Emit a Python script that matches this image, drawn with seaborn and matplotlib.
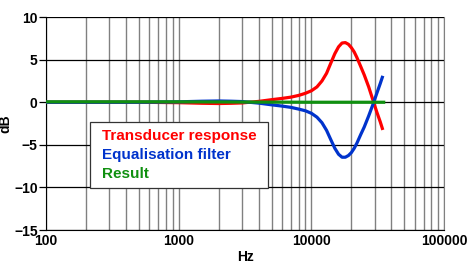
import numpy as np
import pandas as pd
import matplotlib
matplotlib.use("Agg")
import matplotlib.pyplot as plt
import seaborn as sns
from matplotlib.ticker import FixedLocator, NullFormatter

freq_hz = [100, 300, 500, 1000, 1500, 2000, 2500, 3000, 4000, 5000, 6000, 7000,
           8000, 9000, 10000, 11000, 12000, 13000, 14000, 15000, 16000, 17000,
           18000, 19000, 20000, 21000, 22000, 23500, 25000, 27000, 29000,
           31000, 33000, 34500]
transducer_db = [0.0, 0.0, 0.0, -0.05, -0.12, -0.15, -0.12, -0.08, 0.1, 0.3, 0.45, 0.6,
                 0.8, 1.05, 1.35, 1.8, 2.5, 3.4, 4.6, 5.7, 6.5, 6.95,
                 7.0, 6.8, 6.4, 5.9, 5.25, 4.2, 3.2, 1.8, 0.3,
                 -1.1, -2.3, -3.25]
equaliser_db = [0.0, 0.0, 0.0, 0.05, 0.12, 0.15, 0.12, 0.08, -0.1, -0.3, -0.45, -0.6,
                -0.8, -1.0, -1.3, -1.75, -2.4, -3.3, -4.4, -5.4, -6.1, -6.45,
                -6.45, -6.25, -5.9, -5.4, -4.8, -3.8, -2.9, -1.6, -0.3,
                1.0, 2.2, 3.1]
result_freq_hz = [100, 1000, 10000, 20000, 36000]
result_db = [0.05, 0.05, 0.0, 0.0, 0.0]

series_names = ["Transducer response", "Equalisation filter", "Result"]
series_colors = ["#ff0000", "#0033cc", "#109010"]

plt.rcParams['font.family'] = ['Liberation Sans', 'DejaVu Sans']
plt.rcParams['font.weight'] = 'bold'

fig, ax = plt.subplots(figsize=(4.7, 2.66), dpi=100)
fig.subplots_adjust(left=0.098, right=0.945, top=0.936, bottom=0.135)

df = pd.concat([
    pd.DataFrame({"Hz": freq_hz, "dB": transducer_db, "series": series_names[0]}),
    pd.DataFrame({"Hz": freq_hz, "dB": equaliser_db, "series": series_names[1]}),
    pd.DataFrame({"Hz": result_freq_hz, "dB": result_db, "series": series_names[2]}),
])

sns.lineplot(data=df, x="Hz", y="dB", hue="series", palette=series_colors,
             hue_order=series_names, linewidth=2.3, ax=ax, legend=False,
             estimator=None, sort=False, zorder=3)
for ln in ax.get_lines():
    ln.set_solid_joinstyle("round")
    ln.set_solid_capstyle("butt")

ax.set_xscale("log")
ax.set_xlim(100, 100000)
ax.set_ylim(-15, 10)
ax.set_yticks([-15, -10, -5, 0, 5, 10])
ax.xaxis.set_major_locator(FixedLocator([100, 1000, 10000, 100000]))
minors = [m * d for d in [100, 1000, 10000] for m in range(2, 10)]
ax.xaxis.set_minor_locator(FixedLocator(minors))
ax.xaxis.set_minor_formatter(NullFormatter())
ax.set_xticklabels(["100", "1000", "10000", "100000"])

ax.grid(True, axis="x", which="both", color="#808080", linewidth=1.0, zorder=1)
ax.grid(True, axis="y", which="major", color="#000000", linewidth=0.9, zorder=1)
ax.tick_params(axis="y", length=5, width=0.9, color="black", labelsize=10, pad=1)
ax.tick_params(axis="x", which="both", length=0, labelsize=10, pad=3)
for lab in ax.get_xticklabels() + ax.get_yticklabels():
    lab.set_fontweight("bold")

ax.spines["top"].set_visible(False)
ax.spines["right"].set_color("#808080")
ax.spines["left"].set_color("black")
ax.spines["bottom"].set_color("black")

ax.set_xlabel("Hz", fontsize=10, fontweight="bold", labelpad=1)
ax.set_ylabel("dB", fontsize=10, fontweight="bold", labelpad=1)

handles = [plt.Line2D([], [], color=c, linewidth=0) for c in series_colors]
leg = ax.legend(handles, series_names, loc="upper left", mode="expand",
                bbox_to_anchor=(0.1106, 0.207, 0.447, 0.3), frameon=True,
                fancybox=False, edgecolor="#333333", framealpha=1,
                handlelength=0, handletextpad=0.36, borderpad=0.45,
                labelspacing=0.32, borderaxespad=0,
                prop={"size": 11, "weight": "bold"})
for t, c in zip(leg.get_texts(), series_colors):
    t.set_color(c)
leg.get_frame().set_linewidth(0.9)
leg.set_zorder(5)

fig.savefig("out.png", dpi=100)
